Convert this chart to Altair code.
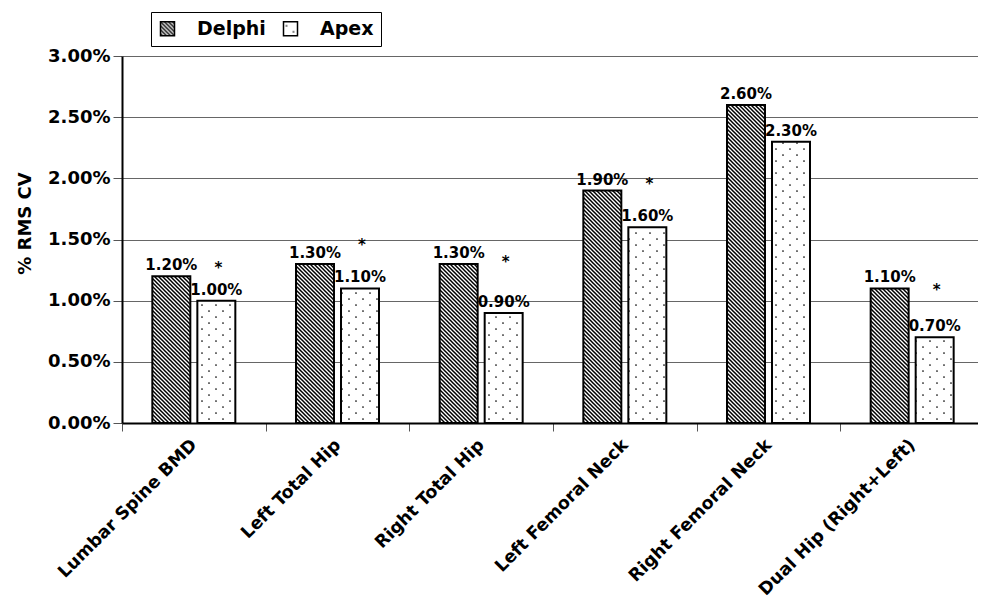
import altair as alt
import pandas as pd
import jinja2

categories = ["Lumbar Spine BMD", "Left Total Hip", "Right Total Hip",
              "Left Femoral Neck", "Right Femoral Neck", "Dual Hip (Right+Left)"]
series_names = ["Delphi", "Apex"]
delphi = [0.012, 0.013, 0.013, 0.019, 0.026, 0.011]
apex = [0.010, 0.011, 0.009, 0.016, 0.023, 0.007]
# height of the significance asterisk above each Apex bar (None = no asterisk)
star_level = [0.0130, 0.0149, 0.0135, 0.0199, None, 0.0112]
y_ticks = [0.0, 0.005, 0.01, 0.015, 0.02, 0.025, 0.03]

fills = ["url(#hatch) #555555", "url(#dots) #ffffff"]
FONT = "DejaVu Sans"

rows = []
for c, d, a in zip(categories, delphi, apex):
    rows.append({"category": c, "series": "Delphi", "value": d})
    rows.append({"category": c, "series": "Apex", "value": a})
df = pd.DataFrame(rows)

stars = pd.DataFrame([{"category": c, "series": "Apex", "level": s, "mark": "*"}
                      for c, s in zip(categories, star_level) if s is not None])

x_enc = alt.X("category:N", sort=categories,
              scale=alt.Scale(paddingInner=0, paddingOuter=0),
              axis=alt.Axis(title=None, labelAngle=315, labelAlign="right",
                            labelBaseline="middle", labelFont=FONT, labelFontSize=17.5,
                            labelFontWeight="bold", labelColor="black", labelPadding=11,
                            labelLimit=400, tickBand="extent", tickSize=8,
                            tickColor="#555555", domainColor="black", domainWidth=2,
                            grid=False))
xo_enc = alt.XOffset("series:N", sort=series_names,
                     scale=alt.Scale(domain=series_names, paddingInner=0.156,
                                     paddingOuter=0.674))
y_enc = alt.Y("value:Q",
              scale=alt.Scale(domain=[0, 0.03], nice=False),
              axis=alt.Axis(values=y_ticks, format=".2%", title="% RMS CV",
                            titleFont=FONT, titleFontSize=18, titleFontWeight="bold",
                            titleColor="black", titleAngle=270, titleX=-97, titleY=167,
                            titleAlign="center", titleBaseline="middle",
                            labelFont=FONT, labelFontSize=18, labelFontWeight="bold",
                            labelColor="black", labelPadding=3, tickSize=9,
                            tickColor="#555555", domainColor="black", domainWidth=2,
                            grid=True, gridColor="#666666", gridWidth=1))

bars = alt.Chart(df).mark_bar(stroke="black", strokeWidth=2).encode(
    x=x_enc,
    xOffset=xo_enc,
    y=y_enc,
    color=alt.Color("series:N", sort=series_names,
                    scale=alt.Scale(domain=series_names, range=fills),
                    legend=alt.Legend(title=None, orient="none", legendX=29, legendY=-44,
                                      direction="horizontal", symbolType="square",
                                      symbolSize=196, symbolStrokeColor="black",
                                      symbolStrokeWidth=1.5, labelFont=FONT,
                                      labelFontSize=19, labelFontWeight="bold",
                                      labelColor="black", labelOffset=20,
                                      columnPadding=14, padding=7,
                                      strokeColor="black", fillColor="white")),
)

labels = alt.Chart(df).mark_text(font=FONT, fontSize=15, fontWeight="bold",
                                 baseline="alphabetic", dy=-6, color="black").encode(
    x=alt.X("category:N", sort=categories),
    xOffset=alt.XOffset("series:N", sort=series_names),
    y=alt.Y("value:Q"),
    text=alt.Text("value:Q", format=".2%"),
)

star_marks = alt.Chart(stars).mark_text(font=FONT, fontSize=15, fontWeight="bold",
                                        baseline="alphabetic", dy=9, dx=2,
                                        color="black").encode(
    x=alt.X("category:N", sort=categories),
    xOffset=alt.XOffset("series:N", sort=series_names),
    y=alt.Y("level:Q"),
    text="mark:N",
)

chart = alt.layer(bars, labels, star_marks).properties(
    width=862, height=367,
    autosize=alt.AutoSizeParams(type="none"),
    padding={"left": 114, "top": 48, "right": 0, "bottom": 180},
).configure_view(stroke=None).configure(font=FONT)

PAGE = jinja2.Template("""<!DOCTYPE html>
<html>
<head>
<meta charset="utf-8">
<script type="text/javascript" src="{{ base_url }}/vega@{{ vega_version }}"></script>
<script type="text/javascript" src="{{ base_url }}/vega-lite@{{ vegalite_version }}"></script>
<script type="text/javascript" src="{{ base_url }}/vega-embed@{{ vegaembed_version }}"></script>
</head>
<body>
<svg width="0" height="0" style="position:absolute" aria-hidden="true">
<defs>
<pattern id="hatch" patternUnits="userSpaceOnUse" width="4" height="4">
<rect width="4" height="4" fill="white"/>
<path d="M-1,-1 L5,5 M-1,3 L1,5 M3,-1 L5,1" stroke="black" stroke-width="1.5"/>
</pattern>
<pattern id="dots" patternUnits="userSpaceOnUse" width="14" height="12">
<rect width="14" height="12" fill="white"/>
<circle cx="3" cy="3" r="0.85" fill="black"/>
<circle cx="10" cy="9" r="0.85" fill="black"/>
</pattern>
</defs>
</svg>
<div id="{{ output_div }}"></div>
<script type="text/javascript">
vegaEmbed("#{{ output_div }}", {{ spec }}, {{ embed_options }}).catch(console.error);
</script>
</body>
</html>""")

chart.save("out.html", embed_options={"renderer": "svg", "actions": False}, template=PAGE)
